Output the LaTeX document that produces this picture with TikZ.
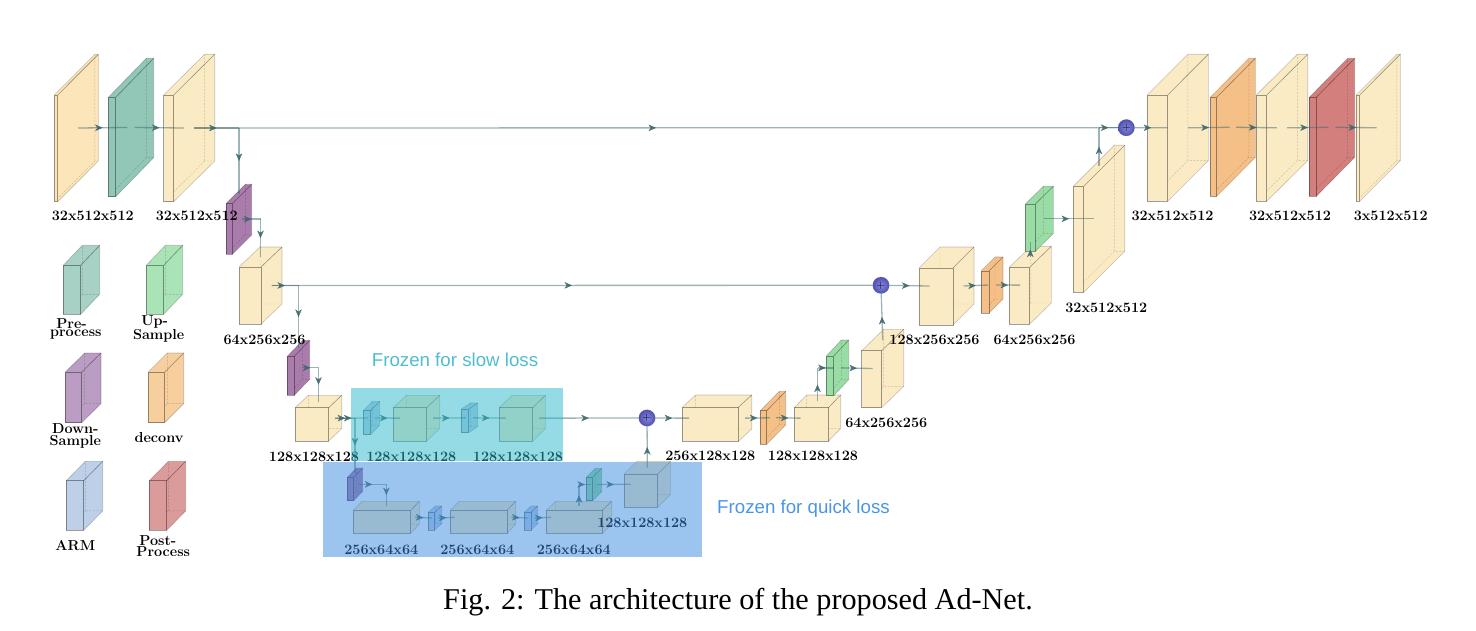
\documentclass[tikz,border=0pt]{standalone}
\usepackage{fontspec}
\setmainfont{Latin Modern Roman}
\newfontfamily\sansf{Liberation Sans}
\newfontfamily\capf{Liberation Serif}
\usetikzlibrary{arrows.meta,decorations.markings,calc}
\definecolor{cream}{RGB}{251,235,197}
\definecolor{creamb}{RGB}{252,229,185}
\definecolor{tealc}{RGB}{146,198,183}
\definecolor{purp}{RGB}{169,124,171}
\definecolor{orng}{RGB}{244,192,136}
\definecolor{redc}{RGB}{211,127,126}
\definecolor{grn}{RGB}{154,220,165}
\definecolor{armc}{RGB}{190,208,232}
\definecolor{lPre}{RGB}{167,209,196}
\definecolor{lUp}{RGB}{170,228,182}
\definecolor{lDown}{RGB}{187,157,195}
\definecolor{lDec}{RGB}{247,207,159}
\definecolor{lPost}{RGB}{220,155,155}
\definecolor{conn}{RGB}{62,104,106}
\definecolor{ballin}{RGB}{135,135,225}
\definecolor{ballout}{RGB}{80,80,175}
\tikzset{
  x=1pt,y=-1pt,
  cubeface/.style={draw=black,draw opacity=.38,line width=.6pt,inner sep=0,outer sep=0},
  cubeside/.style={draw=black,draw opacity=.22,line width=.6pt,line join=round},
  cubeedge/.style={draw=black,draw opacity=.38,line width=.6pt},
  cubehid/.style={draw=black,draw opacity=.2,line width=.45pt,dash pattern=on 2pt off 1.5pt},
  link/.style={draw=conn,draw opacity=.5,line width=1.3pt},
  midarrow/.style={link,postaction={decorate},decoration={markings,mark=at position .5 with {\arrow[conn,line width=.3pt,opacity=.9]{Stealth[length=7.5pt,width=6.5pt,inset=2.2pt]}}}},
  dim/.style={font=\fontsize{14.4}{15}\selectfont\bfseries,inner sep=0,yshift=-.7pt},
  leg/.style={inner sep=0,align=center,yshift=-.7pt},
  addball/.style={circle,shading=radial,inner color=ballin,outer color=ballout,draw=ballout,draw opacity=.5,line width=.4pt,minimum size=16.5pt,inner sep=0,font=\fontsize{11}{11}\selectfont},
}
% name, x0, x1, ytop(front), ybot(front), dx, dy, colour
\newcommand{\cubeat}[8]{%
  \pgfmathsetmacro{\cxa}{#2}\pgfmathsetmacro{\cxb}{#3}\pgfmathsetmacro{\cya}{#4}\pgfmathsetmacro{\cyb}{#5}%
  \pgfmathsetmacro{\cdx}{#6}\pgfmathsetmacro{\cdy}{#7}%
  \pgfmathsetmacro{\cw}{\cxb-\cxa}\pgfmathsetmacro{\ch}{\cyb-\cya}%
  \pgfmathsetmacro{\cmx}{(\cxa+\cxb+\cdx)/2}\pgfmathsetmacro{\cmy}{(\cya+\cyb-\cdy)/2}%
  \fill[#8] (\cxa,\cya) -- (\cxa+\cdx,\cya-\cdy) -- (\cxb+\cdx,\cya-\cdy) -- (\cxb+\cdx,\cyb-\cdy) -- (\cxb,\cyb) -- cycle;
  \path[cubeside] (\cxa,\cya) -- (\cxa+\cdx,\cya-\cdy) -- (\cxb+\cdx,\cya-\cdy) -- (\cxb+\cdx,\cyb-\cdy) -- (\cxb,\cyb);
  \path[cubehid] (\cxa,\cyb) -- (\cxa+\cdx,\cyb-\cdy) -- (\cxb+\cdx,\cyb-\cdy) (\cxa+\cdx,\cyb-\cdy) -- (\cxa+\cdx,\cya-\cdy);
  \path[cubeedge] (\cxb,\cya) -- (\cxb+\cdx,\cya-\cdy);
  \node[cubeface,fill=#8,minimum width=\cw pt,minimum height=\ch pt] (#1) at ({(\cxa+\cxb)/2},{(\cya+\cyb)/2}) {};
  \coordinate (#1-w) at (\cmx-\cw/2,\cmy);
  \coordinate (#1-e) at (\cmx+\cw/2,\cmy);
  \coordinate (#1-n) at (\cmx,\cmy-\ch/2);
  \coordinate (#1-s) at (\cmx,\cmy+\ch/2);
}
\begin{document}
\begin{tikzpicture}
\useasboundingbox (0,0) rectangle (1476,631);
% encoder top row
\cubeat{A1}{54.3}{57.7}{95}{201.7}{40.6}{40.7}{creamb}
\cubeat{A2}{108.3}{115.7}{97.3}{196.7}{38}{39}{tealc}
\cubeat{A3}{163.7}{173.7}{95}{201.7}{41}{40.7}{cream}
\cubeat{B1}{226.3}{232.7}{203.3}{254}{19}{19}{purp}
\cubeat{C1}{239}{261}{267}{324}{21}{20}{cream}
\cubeat{B2}{287.3}{294.3}{356.3}{395.3}{15.4}{16}{purp}
\cubeat{D1}{295.3}{328.7}{407.7}{441}{13}{12.4}{cream}
\cubeat{E1}{363.3}{370.7}{410.7}{434.7}{9}{9.4}{armc}
\cubeat{E2}{393.3}{426.7}{407.7}{441}{13}{12.4}{cream}
\cubeat{E3}{461.3}{468.7}{409}{432.7}{9}{6}{armc}
\cubeat{E4}{499.3}{532.7}{407.7}{441}{12.7}{12.4}{cream}
% quick branch
\cubeat{L0}{347.3}{353.7}{477.3}{500.7}{9}{9.3}{purp}
\cubeat{L1}{353.3}{410.7}{510.3}{533.3}{8.7}{9}{cream}
\cubeat{L2}{428.3}{434.7}{512.3}{530}{7}{6.3}{armc}
\cubeat{L3}{450.3}{507}{510.3}{533.3}{8.7}{9}{cream}
\cubeat{L4}{524.3}{531}{512.3}{530}{6.7}{6.3}{armc}
\cubeat{L5}{546.3}{602.3}{510.3}{533.3}{9.4}{9}{cream}
\cubeat{L6}{586.3}{592.7}{477.3}{500.7}{9}{9}{grn}
\cubeat{L7}{624.3}{657.7}{474}{507.3}{12.7}{12.7}{cream}
% decoder
\cubeat{F1}{682.3}{738.3}{407.3}{441.3}{13.4}{12.3}{cream}
\cubeat{F2}{760.3}{766.7}{410.7}{444.3}{19}{19.4}{orng}
\cubeat{F3}{794.3}{828.3}{407.7}{441.3}{12.4}{12.7}{cream}
\cubeat{G1}{826.3}{833.7}{356}{395.7}{15}{16}{grn}
\cubeat{H1}{861.7}{881.7}{350.7}{407.7}{22}{21.4}{cream}
\cubeat{I1}{919}{953}{268}{325}{21}{21}{cream}
\cubeat{I2}{981}{989}{271}{313}{14}{14}{orng}
\cubeat{I3}{1009.3}{1029.7}{267.3}{324}{21.6}{21}{cream}
\cubeat{G2}{1025.3}{1035.3}{204}{251.3}{18}{17.7}{grn}
\cubeat{J1}{1073.3}{1083.7}{186.3}{292.3}{41}{41}{cream}
\cubeat{K1}{1147.3}{1167.7}{95}{201.3}{40.6}{40.7}{cream}
\cubeat{K2}{1210.3}{1216.7}{97.3}{196.3}{38.6}{39}{orng}
\cubeat{K3}{1256.3}{1266.7}{95}{201.3}{41}{40.7}{cream}
\cubeat{K4}{1309.3}{1316.3}{97.3}{196.3}{38.4}{39}{redc}
\cubeat{K5}{1356.3}{1359.7}{95}{201.3}{40.6}{40.7}{cream}
% legend
\cubeat{LgA}{63.3}{80.7}{265.3}{314.3}{19}{20}{lPre}
\cubeat{LgB}{146.3}{163.7}{265.3}{314.3}{19}{20}{lUp}
\cubeat{LgC}{65.3}{81.7}{372}{422.7}{19.3}{19}{lDown}
\cubeat{LgD}{148.3}{164.7}{372}{422.7}{19}{19}{lDec}
\cubeat{LgE}{66.3}{83.7}{480.7}{530.3}{19}{19.4}{armc}
\cubeat{LgF}{149.3}{166.7}{480.7}{530.3}{19}{19.4}{lPost}
% adders
\node[addball] (P1) at (647,418) {$+$};
\node[addball] (P2) at (881,285.3) {$+$};
\node[addball] (P3) at (1126.3,127.7) {$+$};
% connectors
\path[midarrow] (A1-e) -- (A2-w);
\path[midarrow] (A2-e) -- (A3-w);
\path[midarrow] (A3-e) -- (P3);
\path[midarrow] (A3-e) -- (B1-n |- A3-e);
\path[midarrow] (B1-n |- A3-e) -- (B1-n);
\path[midarrow] (B1-e) -- (C1-n |- B1-e);
\path[midarrow] (C1-n |- B1-e) -- (C1-n);
\path[midarrow] (C1-e) -- (P2);
\path[midarrow] (C1-e) -- (B2-n |- C1-e);
\path[midarrow] (B2-n |- C1-e) -- (B2-n);
\path[midarrow] (B2-e) -- (D1-n |- B2-e);
\path[midarrow] (D1-n |- B2-e) -- (D1-n);
\path[midarrow] (D1-e) -- (E1-w);
\path[midarrow] (D1-e) -- (L0-n |- D1-e);
\path[midarrow] (L0-n |- D1-e) -- (L0-n);
\path[midarrow] (E1-e) -- (E2-w);
\path[midarrow] (E2-e) -- (E3-w);
\path[midarrow] (E3-e) -- (E4-w);
\path[midarrow] (E4-e) -- (P1);
\path[midarrow] (L0-e) -- (L1-n |- L0-e);
\path[midarrow] (L1-n |- L0-e) -- (L1-n);
\path[midarrow] (L1-e) -- (L2-w);
\path[midarrow] (L2-e) -- (L3-w);
\path[midarrow] (L3-e) -- (L4-w);
\path[midarrow] (L4-e) -- (L5-w);
\path[midarrow] (L5-n) -- (L5-n |- L6-w);
\path[midarrow] (L5-n |- L6-w) -- (L6-w);
\path[midarrow] (L6-e) -- (L7-w);
\path[midarrow] (L7-n) -- (P1);
\path[midarrow] (P1) -- (F1-w);
\path[midarrow] (F1-e) -- (F2-w);
\path[midarrow] (F2-e) -- (F3-w);
\path[midarrow] (F3-n) -- (F3-n |- G1-w);
\path[midarrow] (F3-n |- G1-w) -- (G1-w);
\path[midarrow] (G1-e) -- (H1-w);
\path[midarrow] (H1-n) -- (P2);
\path[midarrow] (P2) -- (I1-w);
\path[midarrow] (I1-e) -- (I2-w);
\path[midarrow] (I2-e) -- (I3-w);
\path[midarrow] (I3-n) -- (I3-n |- G2-s);
\path[midarrow] (G2-e) -- (J1-w);
\path[midarrow] (J1-n) -- (J1-n |- P3);
\path[midarrow] (J1-n |- P3) -- (P3);
\path[midarrow] (P3) -- (K1-w);
\path[midarrow] (K1-e) -- (K2-w);
\path[midarrow] (K2-e) -- (K3-w);
\path[midarrow] (K3-e) -- (K4-w);
\path[midarrow] (K4-e) -- (K5-w);
% dimension labels
\node[dim] (t1) at (92.8,215) {32x512x512};
\node[dim] (t2) at (196.8,215) {32x512x512};
\node[dim] (t3) at (264.5,339) {64x256x256};
\node[dim] (t4) at (314,455.7) {128x128x128};
\node[dim] (t5) at (411.3,455.7) {128x128x128};
\node[dim] (t6) at (518,455.7) {128x128x128};
\node[dim] (t7) at (381.3,548.7) {256x64x64};
\node[dim] (t8) at (477.3,548.7) {256x64x64};
\node[dim] (t9) at (573.8,548.7) {256x64x64};
\node[dim] (t10) at (642.3,522) {128x128x128};
\node[dim] (t11) at (710.3,455.3) {256x128x128};
\node[dim] (t12) at (813,455.3) {128x128x128};
\node[dim] (t13) at (886.3,422.3) {64x256x256};
\node[dim] (t14) at (934.5,339) {128x256x256};
\node[dim] (t15) at (1034.5,339) {64x256x256};
\node[dim] (t16) at (1106.3,307.3) {32x512x512};
\node[dim] (t17) at (1172.5,215) {32x512x512};
\node[dim] (t18) at (1290,215) {32x512x512};
\node[dim] (t19) at (1390.7,215) {3x512x512};
% legend labels
\node[leg,font=\fontsize{14.4}{8}\selectfont\bfseries] (q1) at (75.8,327.8) {Pre-\hspace*{8.5pt}\\process};
\node[leg,font=\fontsize{14.4}{14.5}\selectfont\bfseries] (q2) at (158.7,328.3) {Up-\hspace*{8pt}\\Sample};
\node[leg,font=\fontsize{14.4}{12}\selectfont\bfseries] (q3) at (75.3,435.7) {Down-\\Sample};
\node[dim] (q4) at (159,437.3) {deconv};
\node[dim] (q5) at (75.3,545) {ARM};
\node[leg,font=\fontsize{14.4}{10.5}\selectfont\bfseries] (q6) at (163.3,545.3) {Post-\hspace*{11pt}\\Process};
% frozen regions
\fill[fill={rgb,1:red,.16;green,.72;blue,.80},fill opacity=.5] (351,388) rectangle (563,461);
\fill[fill={rgb,1:red,.22;green,.55;blue,.88},fill opacity=.5] (323,462) rectangle (702,557);
\node[inner sep=0,text={rgb,255:red,78;green,189;blue,210},font=\sansf\fontsize{18.7}{19}\selectfont] (f1) at (455,360) {Frozen for slow loss};
\node[inner sep=0,text={rgb,255:red,74;green,149;blue,234},font=\sansf\fontsize{18.7}{19}\selectfont] (f2) at (803.5,508.5) {Frozen for quick loss};
\node[inner sep=0,font=\capf\fontsize{30.2}{31}\selectfont] (cap) at (738,602.5) {Fig. 2: The architecture of the proposed Ad-Net.};
\end{tikzpicture}
\end{document}
